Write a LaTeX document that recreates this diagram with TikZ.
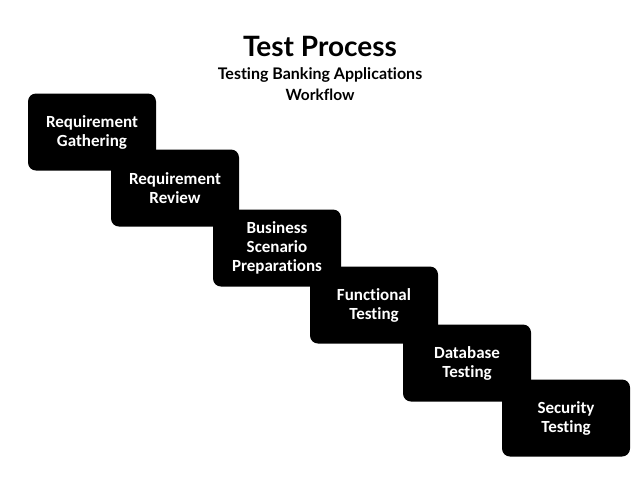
\documentclass[tikz,border=0pt]{standalone}
\usepackage{fontspec}
\setmainfont[Ligatures=NoCommon]{Lato}
\newfontfamily\boxfont[Ligatures=NoCommon]{Carlito}

\tikzset{
  stepbox/.style={fill=black, rounded corners=8pt, text=white, align=center,
    minimum width=128pt, minimum height=77pt, inner sep=0pt,
    font=\boxfont\bfseries\fontsize{17}{19}\selectfont},
}

\begin{document}
\begin{tikzpicture}[x=1pt, y=-1pt]
        \useasboundingbox (0,0) rectangle (640,480);
        % ==== TITLE ====
        \node (title) at (320,46) {\bfseries\fontsize{28}{30}\selectfont Test Process};
        \node (sub) at (320,75) {\bfseries\fontsize{16}{18}\selectfont Testing Banking Applications};
        \node (flow) at (320,95) {\bfseries\fontsize{15.5}{17}\selectfont Workflow};
        % ==== STEPS (last one first, so each box lies over the next) ====
        \node[stepbox] (sec) at (566,418) {Security\\Testing};
        \node[stepbox] (db) at (467,363) {Database\\Testing};
        \node[stepbox] (fun) at (374,305) {Functional\\Testing};
        \node[stepbox] (bus) at (277,248) {Business\\Scenario\\Preparations};
        \node[stepbox] (rev) at (175,188) {Requirement\\Review};
        \node[stepbox] (req) at (92,132) {Requirement\\Gathering};
\end{tikzpicture}
\end{document}
